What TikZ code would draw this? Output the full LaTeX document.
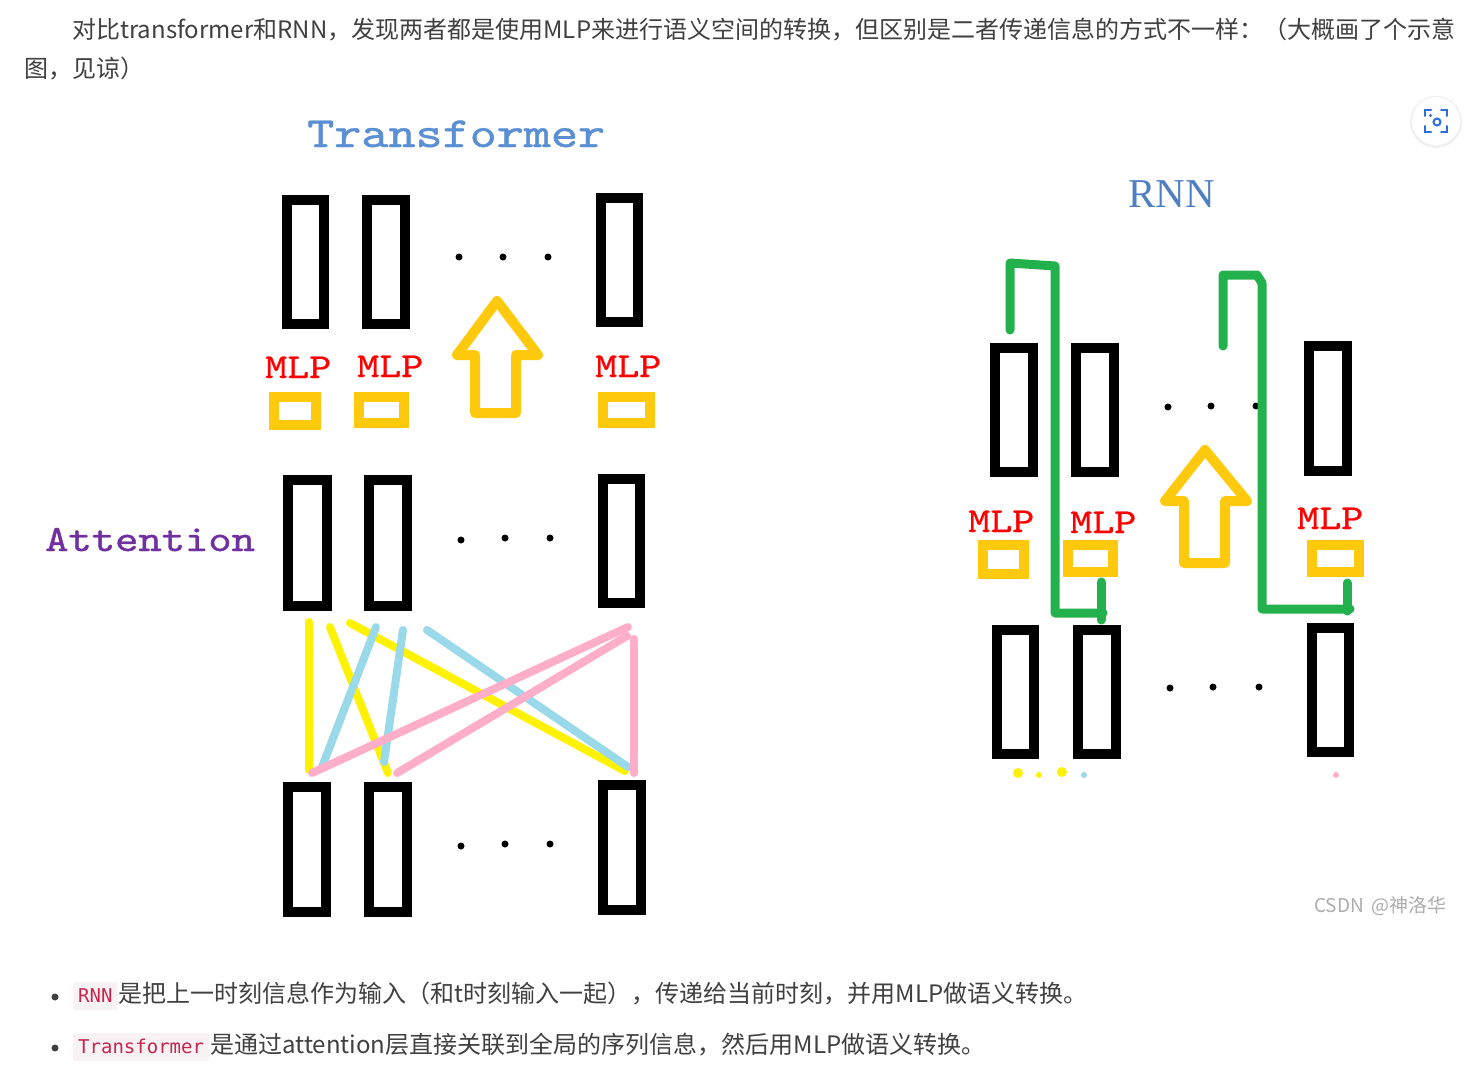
\documentclass[tikz,border=0pt]{standalone}
\usepackage{fontspec}
\usepackage{graphicx}
\setmainfont{Noto Sans CJK SC}
\newfontfamily\cjkf{Noto Sans CJK SC}
\newfontfamily\seriff{Liberation Serif}
\newfontfamily\codef{DejaVu Sans Mono}
\newfontfamily\slabf[FakeBold=0.9]{lmmono10-regular.otf}
\newfontfamily\slabm[FakeBold=0.7]{lmmono10-regular.otf}
\newcommand\wide[1]{\scalebox{1.2}[1]{#1}}
\usetikzlibrary{calc}
\definecolor{gold}{HTML}{FFC90E}
\definecolor{pgreen}{HTML}{22B14C}
\definecolor{pyellow}{HTML}{FFF200}
\definecolor{pblue}{HTML}{99D9EA}
\definecolor{ppink}{HTML}{FFAEC9}
\definecolor{titleblue}{HTML}{5B8FD4}
\definecolor{rnnblue}{HTML}{4F7FC2}
\definecolor{attpurple}{HTML}{7030A0}
\definecolor{mlpred}{HTML}{FF0000}
\definecolor{bodytext}{HTML}{404040}
\definecolor{codered}{HTML}{C7254E}
\definecolor{codebg}{HTML}{F9F2F4}
\definecolor{iconblue}{HTML}{2A6FDB}
\definecolor{wmgrey}{HTML}{ADADAD}
\tikzset{
  blackbox/.style={draw=black, line width=10pt},
  mlpbox/.style={draw=gold, line width=10pt},
  hollowarrow/.style={draw=gold, line width=10pt, line join=round},
  attline/.style={line width=8pt, line cap=round},
  recline/.style={draw=pgreen, line width=9pt, line cap=round, line join=round},
  mlplabel/.style={anchor=base west, inner sep=0pt, text=mlpred, font=\slabm\fontsize{35pt}{38pt}\selectfont},
  dotmark/.style={fill=black, circle, inner sep=0pt, minimum size=7pt},
  bodyline/.style={anchor=base west, inner sep=0pt, text=bodytext, font=\cjkf\fontsize{24pt}{28pt}\selectfont},
  codechip/.style={anchor=base west, fill=codebg, text=codered, inner xsep=5pt, inner ysep=0pt, text height=20pt, text depth=8pt, rounded corners=2pt, font=\codef\fontsize{19pt}{22pt}\selectfont},
}
\newcommand\bx[4]{\draw[blackbox] (#1+5,#2+5) rectangle (#3-5,#4-5);}
\newcommand\mbx[4]{\draw[mlpbox] (#1+5,#2+5) rectangle (#3-5,#4-5);}
\begin{document}
\begin{tikzpicture}[x=1pt,y=-1pt]
\useasboundingbox[fill=white] (0,0) rectangle (1478,1070);

% ---------- top paragraph ----------
\node[bodyline] (p1) at (72,39) {对比transformer和RNN，发现两者都是使用MLP来进行语义空间的转换，但区别是二者传递信息的方式不一样：（大概画了个示意};
\node[bodyline] (p2) at (24,78) {图，见谅）};

% ---------- icon ----------
\fill[black!6] (1436,122) circle (26);
\fill[white] (1436,121) circle (24);
\begin{scope}[draw=iconblue, line width=2pt, line cap=round]
  \draw (1425,116) -- (1425,110) -- (1431,110);
  \draw (1441,110) -- (1447,110) -- (1447,116);
  \draw (1447,126) -- (1447,132) -- (1441,132);
  \draw (1431,132) -- (1425,132) -- (1425,126);
  \draw (1437,122) circle (3.5);
\end{scope}
\fill[iconblue] (1430.5,115.5) circle (1.6);

% ---------- Transformer ----------
\node[anchor=base west, inner sep=0pt, text=titleblue, font=\slabf\fontsize{43pt}{46pt}\selectfont] (ttitle) at (307,147) {\wide{Transformer}};

% top row
\bx{282}{195}{329}{329}
\bx{362}{195}{410}{329}
\bx{596}{193}{643}{327}
\node[dotmark] (td1) at (459,257) {};
\node[dotmark] (td2) at (503,257) {};
\node[dotmark] (td3) at (548,257) {};

% MLPs
\node[mlplabel] (tm1) at (265,378) {\wide{MLP}};
\node[mlplabel] (tm2) at (357,377) {\wide{MLP}};
\node[mlplabel] (tm3) at (595,377) {\wide{MLP}};
\mbx{269}{392}{321}{430}
\mbx{354}{392}{409}{428}
\mbx{598}{392}{655}{428}

% hollow arrow
\draw[hollowarrow] (497,301) -- (538,355) -- (516,355) -- (516,413) -- (475,413) -- (475,355) -- (457,355) -- cycle;

% Attention label
\node[anchor=base west, inner sep=0pt, text=attpurple, font=\slabf\fontsize{37pt}{40pt}\selectfont] (att) at (45,551) {\wide{Attention}};

% middle row
\bx{283}{475}{332}{611}
\bx{364}{475}{412}{611}
\bx{598}{474}{645}{608}
\node[dotmark] (md1) at (461,540) {};
\node[dotmark] (md2) at (505,538) {};
\node[dotmark] (md3) at (550,538) {};

% attention lines
\draw[attline, pyellow] (309,622) -- (309,770);
\draw[attline, pyellow] (330,627) -- (388,773);
\draw[attline, pyellow] (350,623) -- (625,771);
\draw[attline, pblue] (376,627) -- (322,767);
\draw[attline, pblue] (403,630) -- (384,762);
\draw[attline, pblue] (427,630) -- (628,767);
\draw[attline, ppink] (312,773) -- (628,627);
\draw[attline, ppink] (397,773) -- (627,636);
\draw[attline, ppink] (634,639) -- (634,773);

% bottom row
\bx{283}{782}{331}{917}
\bx{364}{782}{412}{917}
\bx{598}{780}{646}{915}
\node[dotmark] (bd1) at (461,846) {};
\node[dotmark] (bd2) at (505,844) {};
\node[dotmark] (bd3) at (550,844) {};

% ---------- RNN ----------
\node[anchor=base west, inner sep=0pt, text=rnnblue, font=\seriff\fontsize{41pt}{44pt}\selectfont] (rtitle) at (1128,207) {RNN};

% top row
\bx{990}{343}{1038}{477}
\bx{1071}{343}{1119}{477}
\bx{1304}{341}{1352}{476}
\node[dotmark] (rd1) at (1168,407) {};
\node[dotmark] (rd2) at (1211,406) {};
\node[dotmark] (rd3) at (1256,406) {};

% MLPs
\node[mlplabel] (rm1) at (968,532) {\wide{MLP}};
\node[mlplabel] (rm2) at (1070,533) {\wide{MLP}};
\node[mlplabel] (rm3) at (1297,529) {\wide{MLP}};
\mbx{978}{540}{1029}{579}
\mbx{1063}{540}{1118}{577}
\mbx{1307}{540}{1364}{577}

% hollow arrow
\draw[hollowarrow] (1205,450) -- (1247,501) -- (1225,501) -- (1225,563) -- (1184,563) -- (1184,501) -- (1165,501) -- cycle;

% green recurrent paths
\draw[recline] (1010,330) -- (1010,263) -- (1055,266) -- (1055,613) -- (1103,613);
\draw[recline] (1101,582) -- (1101,620);
\draw[recline] (1223,346) -- (1223,275) -- (1257,275) -- (1262,283) -- (1262,609) -- (1350,609);
\draw[recline] (1347,583) -- (1347,611);

% bottom row
\bx{992}{625}{1039}{759}
\bx{1073}{625}{1121}{759}
\bx{1307}{623}{1354}{757}
\node[dotmark] (rb1) at (1170,688) {};
\node[dotmark] (rb2) at (1213,687) {};
\node[dotmark] (rb3) at (1259,687) {};

% stray fragments below the RNN boxes
\begin{scope}
  \clip (980,767) rectangle (1360,778);
  \fill[pyellow] (1018,773) circle (5);
  \fill[pyellow] (1039,775) circle (3);
  \fill[pyellow] (1062,772) circle (5);
  \fill[pblue] (1084,775) circle (3);
  \fill[ppink] (1336,775) circle (3);
\end{scope}

% watermark
\node[anchor=base west, inner sep=0pt, text=wmgrey, font=\cjkf\fontsize{19pt}{21pt}\selectfont] (wm) at (1314,912) {CSDN\hspace{3pt} @神洛华};

% ---------- bullets ----------
\fill[bodytext] (55,997) circle (3.5);
\fill[bodytext] (55,1048) circle (3.5);
\node[codechip] (c1) at (73,1002) {RNN};
\node[bodyline, anchor=base west] (l1) at ($(c1.base east)+(1,0)$) {是把上一时刻信息作为输入（和t时刻输入一起），传递给当前时刻，并用MLP做语义转换。};
\node[codechip] (c2) at (73,1053) {Transformer};
\node[bodyline, anchor=base west] (l2) at ($(c2.base east)+(1,0)$) {是通过attention层直接关联到全局的序列信息，然后用MLP做语义转换。};
\end{tikzpicture}
\end{document}
